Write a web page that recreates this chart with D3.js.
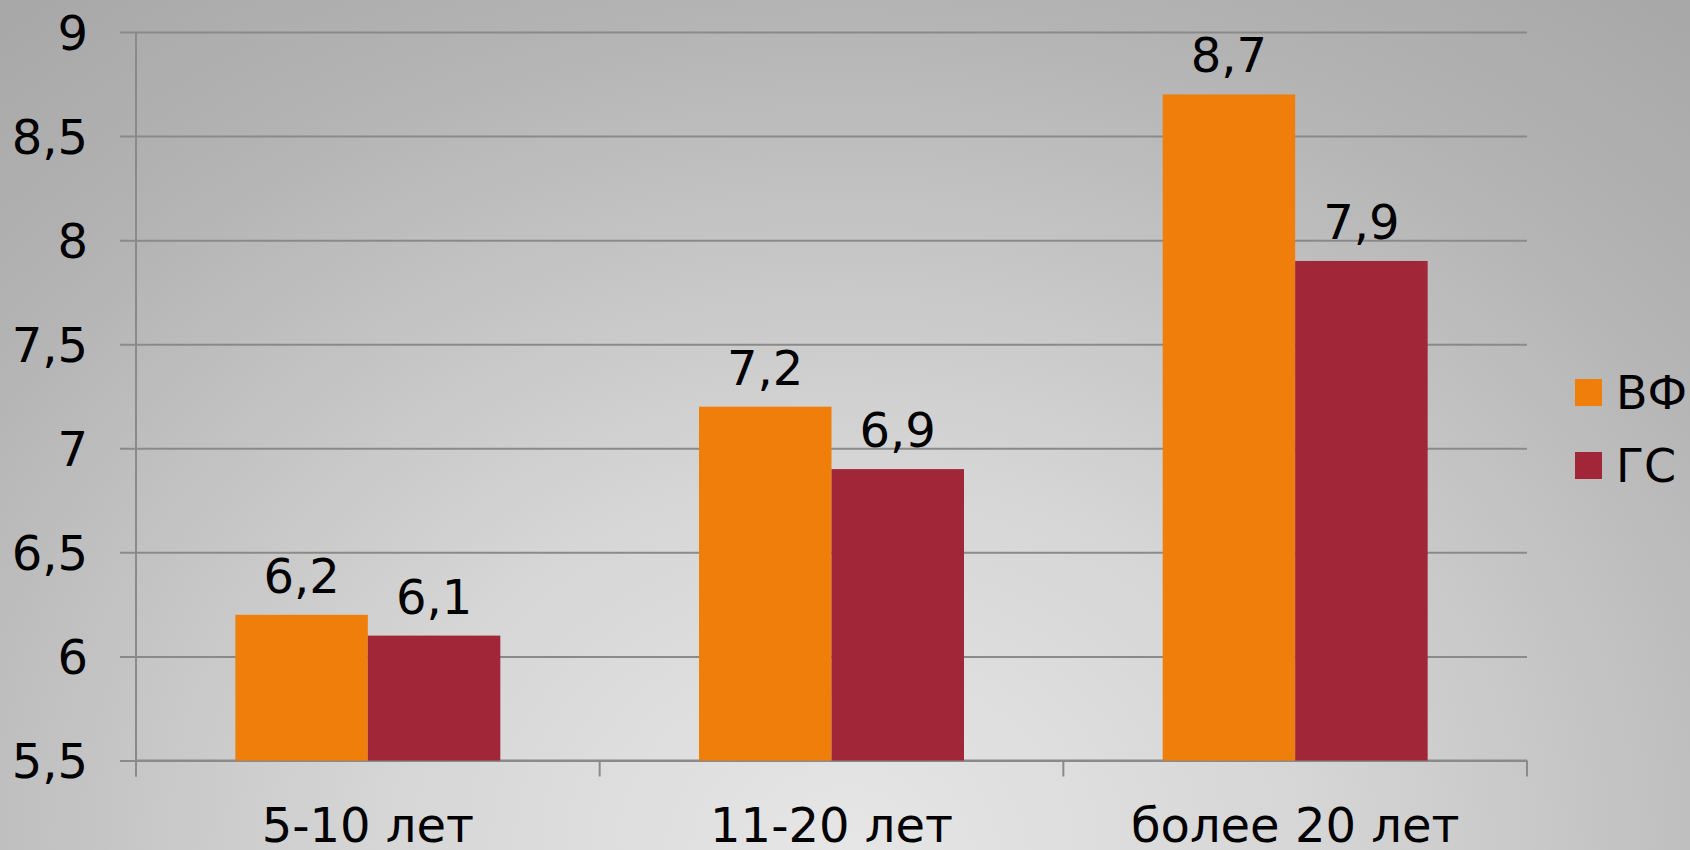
<!DOCTYPE html>
<html>
<head>
<meta charset="utf-8">
<script src="https://cdn.jsdelivr.net/npm/d3@7"></script>
<style>
  html, body { margin: 0; padding: 0; background: #c0c0c0; }
  svg { display: block; }
  text { font-family: "DejaVu Sans", Verdana, sans-serif; fill: #000; }
</style>
</head>
<body>
<svg id="chart" width="1690" height="850"></svg>
<script>
// Data
const categories = ["5-10 лет", "11-20 лет", "более 20 лет"];
const seriesNames = ["ВФ", "ГС"];
const seriesVF = [6.2, 7.2, 8.7];
const seriesGS = [6.1, 6.9, 7.9];
const yTicks = [5.5, 6, 6.5, 7, 7.5, 8, 8.5, 9];
const seriesColors = ["#ef7f0a", "#a02638"];

const W = 1690, H = 850;
const plot = { left: 136, right: 1527, top: 32, bottom: 760.5 };

const svg = d3.select("#chart");

// Background: soft radial light from the bottom centre
const defs = svg.append("defs");
const grad = defs.append("radialGradient")
  .attr("id", "bg")
  .attr("gradientUnits", "userSpaceOnUse")
  .attr("cx", 0).attr("cy", 0).attr("r", 1)
  .attr("gradientTransform", "translate(845,850) scale(1320,1080)");
[[0, "#e6e6e6"], [0.35, "#d6d6d6"], [0.64, "#bfbfbf"], [0.79, "#b3b3b3"], [1, "#a8a8a8"]]
  .forEach(([o, c]) => grad.append("stop").attr("offset", o).attr("stop-color", c));
svg.append("rect").attr("width", W).attr("height", H).attr("fill", "url(#bg)");

// Scales
const y = d3.scaleLinear().domain([5.5, 9]).range([plot.bottom, plot.top]);
const x0 = d3.scaleBand().domain(categories).range([plot.left, plot.right])
  .paddingInner(0.4285).paddingOuter(0.21425);
const x1 = d3.scaleBand().domain(seriesNames).range([0, x0.bandwidth()]);
const color = d3.scaleOrdinal().domain(seriesNames).range(seriesColors);

const gridColor = "#8a8a8a";

// Horizontal gridlines with left ticks
const yAxis = d3.axisLeft(y).tickValues(yTicks)
  .tickSize(-(plot.right - plot.left))
  .tickFormat(d => String(d).replace(".", ","))
  .tickPadding(0);
const gy = svg.append("g").attr("transform", `translate(${plot.left},0)`).call(yAxis);
gy.select(".domain").remove();
gy.selectAll(".tick line")
  .attr("x1", -16)
  .attr("stroke", gridColor).attr("stroke-width", 2);
gy.selectAll(".tick text")
  .attr("x", -48)
  .attr("dy", "0.36em")
  .style("font-size", "48px")
  .attr("font-family", null)
  .attr("fill", "#000");

// Vertical axis line
svg.append("line")
  .attr("x1", plot.left).attr("x2", plot.left)
  .attr("y1", plot.top).attr("y2", plot.bottom + 16)
  .attr("stroke", gridColor).attr("stroke-width", 2);

// Bottom category axis with boundary ticks
const step = x0.step();
const boundaries = categories.map(c => x0(c) - step * x0.paddingInner() / 2)
  .concat([plot.right]);
const gx = svg.append("g");
gx.append("line")
  .attr("x1", plot.left).attr("x2", plot.right)
  .attr("y1", y(5.5)).attr("y2", y(5.5))
  .attr("stroke", gridColor).attr("stroke-width", 2);
gx.selectAll("line.tick").data(boundaries).join("line")
  .attr("class", "tick")
  .attr("x1", d => d).attr("x2", d => d)
  .attr("y1", y(5.5)).attr("y2", y(5.5) + 16)
  .attr("stroke", gridColor).attr("stroke-width", 2);
gx.selectAll("text").data(categories).join("text")
  .attr("x", d => x0(d) + x0.bandwidth() / 2)
  .attr("y", 842)
  .attr("text-anchor", "middle")
  .style("font-size", "48px")
  .text(d => d);

// Bars
const rows = categories.map((c, i) => ({
  cat: c,
  values: [
    { name: seriesNames[0], value: seriesVF[i] },
    { name: seriesNames[1], value: seriesGS[i] }
  ]
}));

const groups = svg.append("g").selectAll("g").data(rows).join("g")
  .attr("transform", d => `translate(${x0(d.cat)},0)`);

groups.selectAll("rect").data(d => d.values).join("rect")
  .attr("x", d => x1(d.name))
  .attr("width", x1.bandwidth())
  .attr("y", d => y(d.value))
  .attr("height", d => y(5.5) - y(d.value))
  .attr("fill", d => color(d.name));

groups.selectAll("text").data(d => d.values).join("text")
  .attr("x", d => x1(d.name) + x1.bandwidth() / 2)
  .attr("y", d => y(d.value) - 22)
  .attr("text-anchor", "middle")
  .style("font-size", "48px")
  .text(d => String(d.value).replace(".", ","));

// Legend
const legend = svg.append("g").attr("transform", "translate(1575,379)");
const li = legend.selectAll("g").data(seriesNames).join("g")
  .attr("transform", (d, i) => `translate(0,${i * 73})`);
li.append("rect").attr("width", 27).attr("height", 27).attr("fill", d => color(d));
li.append("text")
  .attr("x", 41).attr("y", 29.5)
  .style("font-size", "46px")
  .text(d => d);
</script>
</body>
</html>
